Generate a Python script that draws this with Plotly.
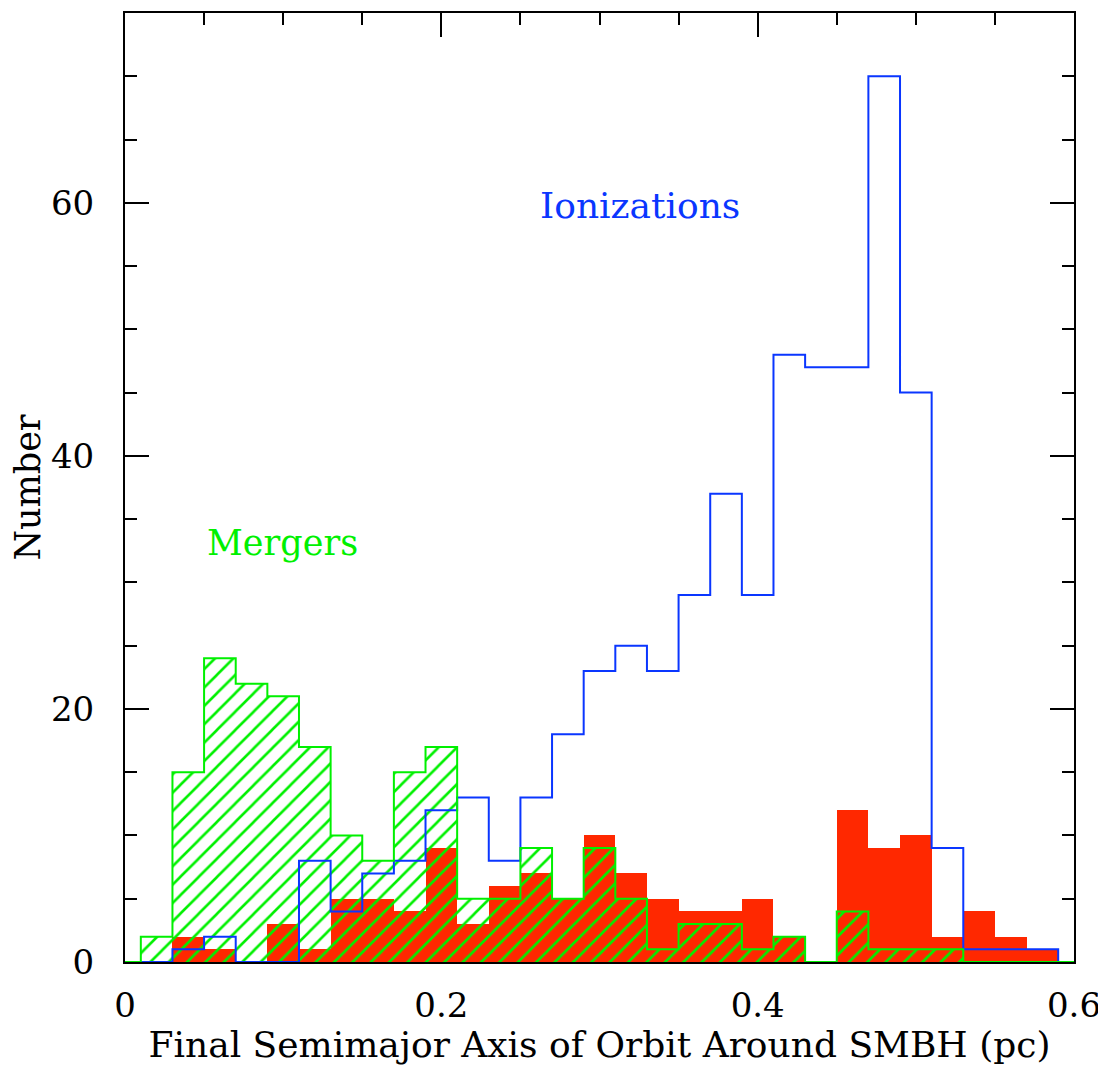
import plotly.graph_objects as go

# ---- data ----
bin_edges = [-0.01, 0.01, 0.03, 0.05, 0.07, 0.09, 0.11, 0.13, 0.15, 0.17, 0.19,
             0.21, 0.23, 0.25, 0.27, 0.29, 0.31, 0.33, 0.35, 0.37, 0.39,
             0.41, 0.43, 0.45, 0.47, 0.49, 0.51, 0.53, 0.55, 0.57, 0.59, 0.61]

mergers = [0, 2, 15, 24, 22, 21, 17, 10, 8, 15, 17,
           5, 5, 9, 5, 9, 5, 1, 3, 3, 1,
           2, 0, 4, 1, 1, 1, 0, 0, 0, 0]

red_counts = [0, 0, 2, 1, 0, 3, 1, 5, 5, 4, 9,
              3, 6, 7, 5, 10, 7, 5, 4, 4, 5,
              2, 0, 12, 9, 10, 2, 4, 2, 1, 0]

ionizations = [0, 0, 1, 2, 0, 0, 8, 4, 7, 8, 12,
               13, 8, 13, 18, 23, 25, 23, 29, 37, 29,
               48, 47, 47, 70, 45, 9, 1, 1, 1, 0]

x_ticks = [0, 0.2, 0.4, 0.6]
x_tick_labels = ["0", "0.2", "0.4", "0.6"]
y_ticks = [0, 20, 40, 60]
y_tick_labels = ["0", "20", "40", "60"]

RED = "#ff2800"
GREEN = "#00f000"
BLUE = "#0a36ff"
FONT = "DejaVu Serif"

centers = [(a + b) / 2 for a, b in zip(bin_edges[:-1], bin_edges[1:])]
widths = [b - a for a, b in zip(bin_edges[:-1], bin_edges[1:])]


def step_xy(edges, vals):
    xs = [edges[0]] + list(edges[:-1]) + [edges[-1], edges[-1]]
    ys = [0] + list(vals) + [vals[-1], 0]
    return xs, ys


fig = go.Figure()

# red filled histogram
fig.add_trace(go.Bar(x=centers, y=red_counts, width=widths,
                     marker=dict(color=RED, line=dict(width=0)),
                     showlegend=False, hoverinfo="skip"))

# green hatched histogram
fig.add_trace(go.Bar(x=centers, y=mergers, width=widths,
                     marker=dict(color=GREEN, line=dict(width=0),
                                 pattern=dict(shape="/", size=13, solidity=0.2,
                                              fgcolor=GREEN, fillmode="replace")),
                     showlegend=False, hoverinfo="skip"))

# blue outline
bx, by = step_xy(bin_edges, ionizations)
fig.add_trace(go.Scatter(x=bx, y=by, mode="lines", line=dict(color=BLUE, width=2, shape="hv"),
                         showlegend=False, hoverinfo="skip"))

# green outline
gx, gy = step_xy(bin_edges, mergers)
fig.add_trace(go.Scatter(x=gx, y=gy, mode="lines", line=dict(color=GREEN, width=2, shape="hv"),
                         showlegend=False, hoverinfo="skip"))

fig.add_annotation(x=0.261, y=59.8, text="Ionizations", showarrow=False,
                   xanchor="left", yanchor="middle",
                   font=dict(family=FONT, size=36, color=BLUE))
fig.add_annotation(x=0.0506, y=33.1, text="Mergers", showarrow=False,
                   xanchor="left", yanchor="middle",
                   font=dict(family=FONT, size=35, color=GREEN))

# page body has an 8px margin, so the figure is sized/offset to fill the window
fig.update_layout(
    width=1098, height=1057,
    margin=dict(l=117, r=32, t=3, b=102),
    paper_bgcolor="white", plot_bgcolor="white",
    barmode="overlay", bargap=0,
    font=dict(family=FONT, color="black"),
)

fig.update_xaxes(
    range=[0, 0.6], tickvals=x_ticks, ticktext=x_tick_labels,
    ticks="inside", ticklen=24, tickwidth=2, tickcolor="black",
    showline=True, linewidth=2, linecolor="black", mirror="ticks",
    showgrid=False, zeroline=False, layer="below traces",
    tickfont=dict(family=FONT, size=34, color="black"),
    ticklabelstandoff=12,
    minor=dict(ticks="inside", ticklen=12, tickwidth=2, tickcolor="black", dtick=0.05, showgrid=False),
    title=dict(text="Final Semimajor Axis of Orbit Around SMBH (pc)",
               font=dict(family=FONT, size=36, color="black"), standoff=12),
)
fig.update_yaxes(
    range=[0, 75], tickvals=y_ticks, ticktext=y_tick_labels,
    ticks="inside", ticklen=24, tickwidth=2, tickcolor="black",
    showline=True, linewidth=2, linecolor="black", mirror="ticks",
    showgrid=False, zeroline=False, layer="below traces",
    tickfont=dict(family=FONT, size=34, color="black"),
    ticklabelstandoff=22,
    minor=dict(ticks="inside", ticklen=12, tickwidth=2, tickcolor="black", dtick=5, showgrid=False),
    title=dict(text="Number", font=dict(family=FONT, size=35, color="black"), standoff=4),
)

fig.write_html("out.html")
